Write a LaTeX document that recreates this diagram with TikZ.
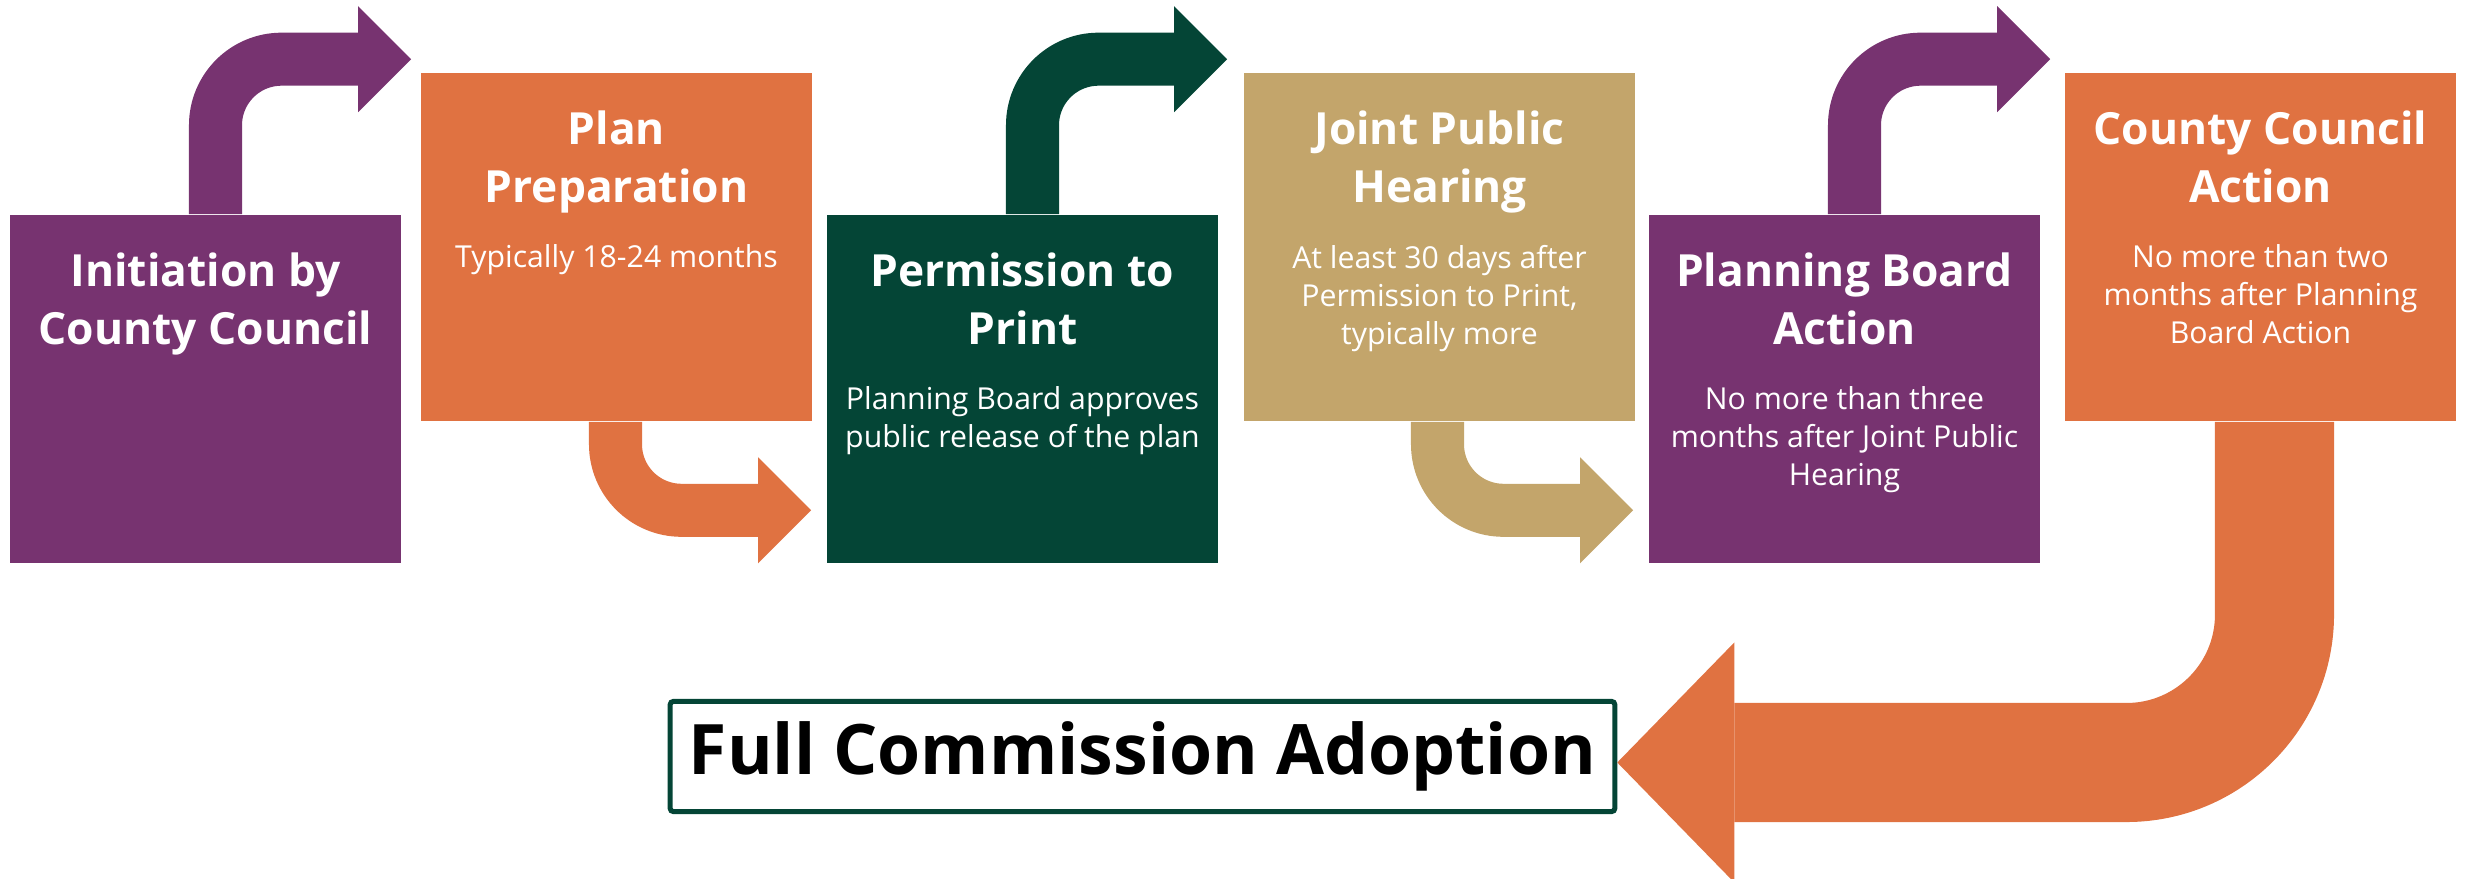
\documentclass[tikz,border=0pt]{standalone}
\usepackage{fontspec}
\setmainfont{Open Sans}
\usetikzlibrary{positioning,calc,arrows.meta}
\definecolor{plum}{RGB}{119,51,112}
\definecolor{rust}{RGB}{224,114,65}
\definecolor{pine}{RGB}{4,69,54}
\definecolor{sand}{RGB}{195,165,107}
\tikzset{
        box/.style={rectangle, inner sep=0pt, minimum width=3.91cm, minimum height=3.48cm},
        ttl/.style={text=white, align=center, inner sep=0pt, font=\fontsize{12.6}{16.5}\selectfont\bfseries},
        note/.style={text=white, align=center, inner sep=0pt, font=\fontsize{8.6}{10.8}\selectfont},
        turn/.style={line width=0.53cm, rounded corners=0.66cm, -{Triangle[length=0.53cm,width=1.06cm,line width=0pt]}}
}

\begin{document}
\begin{tikzpicture}[x=0.01cm, y=-0.01cm]
        \useasboundingbox (0,0) rectangle (2465,879);
        % the six steps
        \node[box, fill=plum] (b1) at (205.5,389) {};
        \node[box, fill=rust] (b2) at (616.5,247) {};
        \node[box, fill=pine] (b3) at (1022.5,389) {};
        \node[box, fill=sand] (b4) at (1439.5,247) {};
        \node[box, fill=plum] (b5) at (1844.5,389) {};
        \node[box, fill=rust] (b6) at (2260.5,247) {};

        \node[ttl, below=0.38cm of b1.north] (t1) {Initiation by\\County Council};
        \node[ttl, below=0.38cm of b2.north] (t2) {Plan\\Preparation};
        \node[ttl, below=0.38cm of b3.north] (t3) {Permission to\\Print};
        \node[ttl, below=0.38cm of b4.north] (t4) {Joint Public\\Hearing};
        \node[ttl, below=0.38cm of b5.north] (t5) {Planning Board\\Action};
        \node[ttl, below=0.38cm of b6.north] (t6) {County Council\\Action};

        \node[note, below=1.72cm of b2.north] (n2) {Typically 18-24 months};
        \node[note, below=1.72cm of b3.north] (n3) {Planning Board approves\\public release of the plan};
        \node[note, below=1.72cm of b4.north] (n4) {At least 30 days after\\Permission to Print,\\typically more};
        \node[note, below=1.72cm of b5.north] (n5) {No more than three\\months after Joint Public\\Hearing};
        \node[note, below=1.72cm of b6.north] (n6) {No more than two\\months after Planning\\Board Action};

        \node[draw=pine, line width=0.05cm, rounded corners=0.03cm, minimum width=9.44cm, minimum height=1.1cm, inner sep=0pt,
                font=\fontsize{19.8}{24}\selectfont\bfseries] (fin) at (1142.5,756.5) {Full Commission Adoption};

        % bent arrows between the steps
        \draw[turn, plum] ($(b1.north)+(10,0)$) |- ($(b2.north west)+(-9,-13)$);
        \draw[turn, rust] ($(b2.south)+(-1,0)$) |- ($(b3.south west)+(-15,-53.5)$);
        \draw[turn, pine] ($(b3.north)+(10,0)$) |- ($(b4.north west)+(-16,-13)$);
        \draw[turn, sand] ($(b4.south)+(-2,0)$) |- ($(b5.south west)+(-15,-53.5)$);
        \draw[turn, plum] ($(b5.north)+(10,0)$) |- ($(b6.north west)+(-14,-13)$);
        \draw[turn, rust, line width=1.19cm, rounded corners=1.48cm, -{Triangle[length=1.17cm,width=2.4cm,line width=0pt]}]
                ($(b6.south)+(14,0)$) |- ($(fin.east)+(0,6)$);
\end{tikzpicture}
\end{document}
